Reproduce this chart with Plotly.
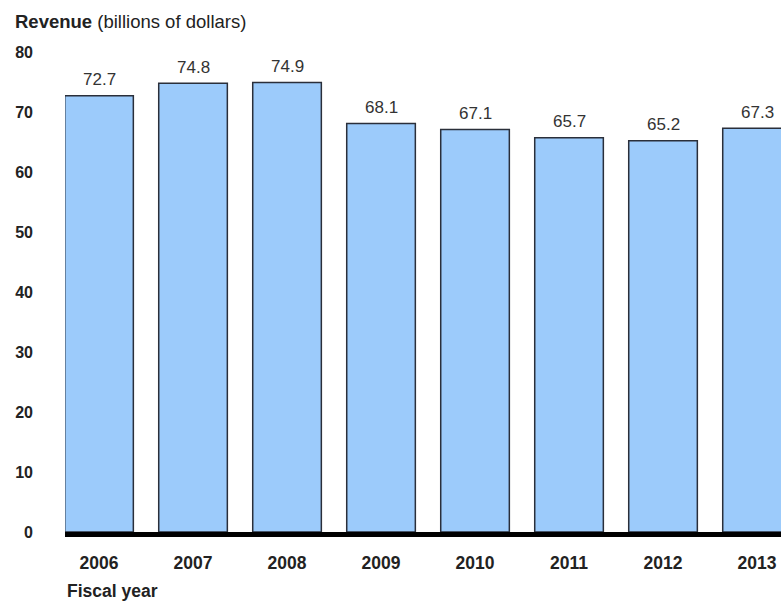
import plotly.graph_objects as go

# Annual revenue, billions of dollars
years = ["2006", "2007", "2008", "2009", "2010", "2011", "2012", "2013"]
revenue = [72.7, 74.8, 74.9, 68.1, 67.1, 65.7, 65.2, 67.3]
y_ticks = [0, 10, 20, 30, 40, 50, 60, 70, 80]

FONT = "Liberation Sans, Arial, sans-serif"
INK = "#222222"

fig = go.Figure(
    go.Bar(
        x=years,
        y=revenue,
        marker=dict(color="#9ccbfb", line=dict(color="#2a2f3a", width=1.5)),
        width=0.73,
        hoverinfo="x+y",
    )
)

# Value labels floating above each bar (x given as category position)
value_labels = [
    dict(
        x=i, y=v, xref="x", yref="y",
        text=f"{v:.1f}",
        showarrow=False,
        yanchor="middle", yshift=16,
        font=dict(family=FONT, size=17, color="#333333"),
    )
    for i, v in enumerate(revenue)
]

fig.update_layout(
    width=781,
    height=602,
    margin=dict(l=65, r=0, t=40, b=70),
    paper_bgcolor="white",
    plot_bgcolor="white",
    showlegend=False,
    font=dict(family=FONT, color=INK),
    xaxis=dict(
        type="category",
        range=[-0.362, 7.255],
        showgrid=False,
        showline=True,
        linecolor="black",
        linewidth=5,
        ticks="",
        ticklabelstandoff=11,
        tickfont=dict(family=FONT, size=17.5, color=INK, weight="bold"),
    ),
    yaxis=dict(
        range=[0, 82],
        tickvals=y_ticks,
        showgrid=False,
        zeroline=False,
        showline=False,
        ticks="",
        ticklabelstandoff=31,
        tickfont=dict(family=FONT, size=16, color=INK, weight="bold"),
    ),
    annotations=value_labels + [
        dict(
            text="<b>Revenue</b> (billions of dollars)",
            xref="paper", yref="paper",
            x=-65 / 716, y=1 + 18 / 492,
            xshift=13,
            xanchor="left", yanchor="middle",
            showarrow=False,
            font=dict(family=FONT, size=18.5, color=INK),
        ),
        dict(
            text="<b>Fiscal year</b>",
            xref="paper", yref="paper",
            x=0, y=-59 / 492,
            xanchor="left", yanchor="middle",
            showarrow=False,
            font=dict(family=FONT, size=17.5, color=INK),
        ),
    ],
)

fig.write_html("out.html")
